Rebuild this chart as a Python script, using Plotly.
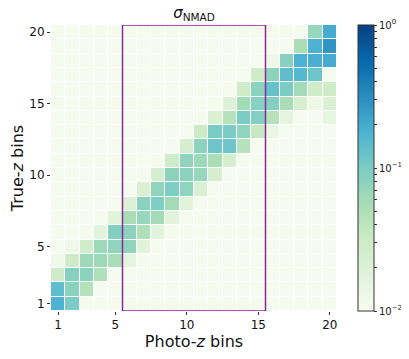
import numpy as np
import plotly.graph_objects as go

# { data: sigma_NMAD per (photo-z bin, true-z bin), background cells ~1e-2
bins = list(range(1, 21))
bg = 0.0105

# non-background cells per true-z row: {photo-z bin: value}
rows = {
    20: {19: 0.07, 20: 0.20},
    19: {18: 0.055, 19: 0.18, 20: 0.28},
    18: {16: 0.013, 17: 0.085, 18: 0.18, 19: 0.19, 20: 0.20},
    17: {15: 0.03, 16: 0.08, 17: 0.14, 18: 0.16, 19: 0.12},
    16: {14: 0.03, 15: 0.08, 16: 0.13, 17: 0.10, 18: 0.06, 19: 0.03, 20: 0.03},
    15: {13: 0.02, 14: 0.06, 15: 0.085, 16: 0.09, 17: 0.055, 18: 0.025, 19: 0.013, 20: 0.022},
    14: {12: 0.022, 13: 0.045, 14: 0.10, 15: 0.09, 16: 0.045, 17: 0.016, 20: 0.015},
    13: {11: 0.032, 12: 0.10, 13: 0.10, 14: 0.075, 15: 0.035, 16: 0.014},
    12: {10: 0.025, 11: 0.08, 12: 0.12, 13: 0.12, 14: 0.045},
    11: {9: 0.03, 10: 0.075, 11: 0.065, 12: 0.055, 13: 0.025},
    10: {8: 0.025, 9: 0.08, 10: 0.08, 11: 0.07, 12: 0.025},
    9: {7: 0.022, 8: 0.075, 9: 0.095, 10: 0.075, 11: 0.022},
    8: {6: 0.02, 7: 0.08, 8: 0.095, 9: 0.06, 10: 0.018},
    7: {5: 0.018, 6: 0.055, 7: 0.07, 8: 0.06, 9: 0.018},
    6: {4: 0.017, 5: 0.09, 6: 0.08, 7: 0.05, 8: 0.017},
    5: {2: 0.012, 3: 0.028, 4: 0.065, 5: 0.075, 6: 0.075, 7: 0.018},
    4: {1: 0.012, 2: 0.03, 3: 0.065, 4: 0.065, 5: 0.055, 6: 0.016},
    3: {1: 0.03, 2: 0.085, 3: 0.08, 4: 0.05},
    2: {1: 0.14, 2: 0.08, 3: 0.045},
    1: {1: 0.18, 2: 0.10},
}

tick_bins = [1, 5, 10, 15, 20]
sel_bins = [6, 15]  # highlighted photo-z bins
# }

# { build matrix (row index = true-z bin)
z = np.full((20, 20), bg)
for tz, cells in rows.items():
    for pz, v in cells.items():
        z[tz - 1, pz - 1] = v
logz = np.log10(z)
# }

# { colorbar ticks (log scale with minor ticks)
cb_vals, cb_text = [], []
for e in [-2, -1]:
    for k in range(1, 10):
        cb_vals.append(e + np.log10(k))
        cb_text.append("10<sup>\u2212%d</sup>" % -e if k == 1 else "")
cb_vals.append(0)
cb_text.append("10<sup>0</sup>")
# }

fig = go.Figure()

fig.add_trace(go.Heatmap(
    x=bins, y=bins, z=logz,
    colorscale="GnBu", zmin=-2, zmax=0,
    xgap=1, ygap=1,
    colorbar=dict(
        x=1.073, xanchor="left", y=0.5, yanchor="middle",
        len=1, lenmode="fraction", thickness=16, ypad=0, xpad=0,
        outlinewidth=1, outlinecolor="#333",
        tickvals=cb_vals, ticktext=cb_text,
        ticks="outside", ticklen=3, tickcolor="#333",
        tickfont=dict(size=10, color="#222"),
    ),
))

fig.add_shape(type="rect", xref="x", yref="y",
              x0=sel_bins[0] - 0.5, x1=sel_bins[1] + 0.5,
              y0=bins[0] - 0.5, y1=bins[-1] + 0.5,
              line=dict(color="#8e2a96", width=1.5))

# page body has an 8px margin, so the figure starts 8px in from the window corner
fig.update_layout(
    width=401, height=351,
    margin=dict(l=43, r=72, t=17, b=48, autoexpand=False),
    paper_bgcolor="white", plot_bgcolor="white",
    font=dict(family="DejaVu Sans", color="#111"),
    title=dict(text="<i>\u03c3</i><sub>NMAD</sub>", xref="paper", x=0.5,
               xanchor="center", yref="container", y=1 - 5 / 351,
               yanchor="middle", font=dict(size=15)),
)
fig.update_xaxes(range=[0.5, 20.5], tickvals=tick_bins, ticks="outside",
                 ticklen=3, tickcolor="#333", showgrid=False, zeroline=False,
                 tickfont=dict(size=12),
                 title=dict(text="Photo-<i>z</i> bins", font=dict(size=16), standoff=4))
fig.update_yaxes(range=[0.5, 20.5], tickvals=tick_bins, ticks="outside",
                 ticklen=3, tickcolor="#333", showgrid=False, zeroline=False,
                 tickfont=dict(size=12),
                 title=dict(text="True-<i>z</i> bins", font=dict(size=16), standoff=6))

fig.write_html("out.html")
